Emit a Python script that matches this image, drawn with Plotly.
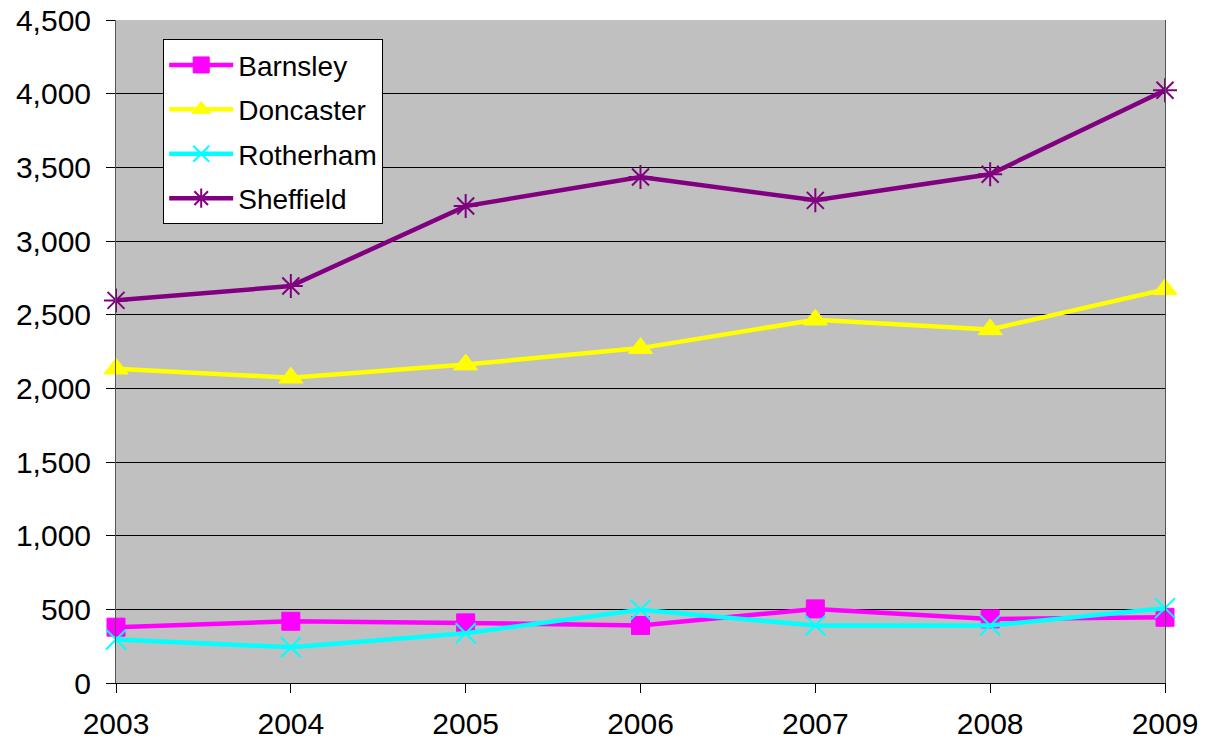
import plotly.graph_objects as go

years = [2003, 2004, 2005, 2006, 2007, 2008, 2009]
barnsley = [379, 419, 408, 390, 503, 435, 446]
doncaster = [2133, 2072, 2161, 2273, 2466, 2400, 2672]
rotherham = [295, 243, 338, 497, 390, 390, 508]
sheffield = [2597, 2694, 3237, 3434, 3276, 3453, 4023]

series = [
    ("Barnsley", barnsley, "#FF00FF", "square", 18, 1),
    ("Doncaster", doncaster, "#FFFF00", "triangle-up", 21, 1),
    ("Rotherham", rotherham, "#00FFFF", "x-thin-open", 20, 2),
    ("Sheffield", sheffield, "#800080", "asterisk-open", 20, 2),
]

fig = go.Figure()
for name, vals, color, symbol, size, lw in series:
    fig.add_trace(go.Scatter(
        x=years, y=vals, name=name, mode="lines+markers",
        legendgroup=name,
        line=dict(color=color, width=4.5),
        marker=dict(symbol=symbol, size=size, color=color,
                    line=dict(color=color, width=lw)),
        cliponaxis=False,
    ))

fig.update_layout(
    template="none",
    width=1218, height=745,
    margin=dict(l=116, r=53, t=20, b=62, pad=0),
    paper_bgcolor="white",
    plot_bgcolor="#C0C0C0",
    font=dict(family="Liberation Sans, Arial, sans-serif", size=30, color="black"),
    showlegend=True,
    legend=dict(
        x=0.045, y=0.971, xanchor="left", yanchor="top",
        bgcolor="white", bordercolor="black", borderwidth=1,
        font=dict(size=28), itemwidth=64, tracegroupgap=5,
    ),
)
fig.update_xaxes(
    range=[2003, 2009], tickmode="array", tickvals=years,
    ticktext=[str(y) for y in years],
    showgrid=False, zeroline=False, automargin=False,
    showline=True, linecolor="black", linewidth=1,
    ticks="outside", ticklen=9, tickcolor="black",
    ticklabelstandoff=5,
)
fig.update_yaxes(
    range=[0, 4500], dtick=500, tickformat=",",
    showgrid=True, gridcolor="black", gridwidth=1,
    zeroline=False, automargin=False,
    showline=True, linecolor="#555555", linewidth=1, mirror=True,
    ticks="outside", ticklen=9, tickcolor="black",
    ticklabelstandoff=9,
)

fig.write_html("out.html")
